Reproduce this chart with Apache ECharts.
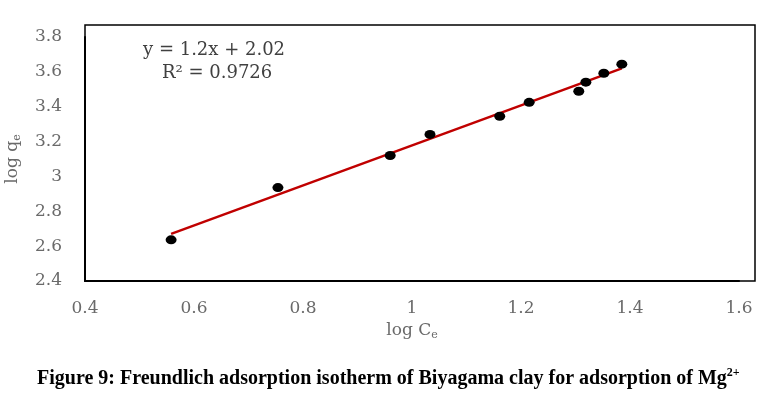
<!DOCTYPE html>
<html>
<head>
<meta charset="utf-8">
<script src="https://cdn.jsdelivr.net/npm/echarts@6/dist/echarts.min.js"></script>
<style>
html,body{margin:0;padding:0;background:#fff}
#chart{width:766px;height:407px}
</style>
</head>
<body>
<div id="chart"></div>
<script>
// log Ce / log qe points
var logCe = [0.558, 0.754, 0.960, 1.033, 1.161, 1.215, 1.306, 1.319, 1.352, 1.385];
var logQe = [2.636, 2.936, 3.120, 3.241, 3.345, 3.425, 3.489, 3.541, 3.592, 3.644];
// ends of the drawn trend line
var trendX = [0.558, 1.385];
var trendY = [2.67, 3.62];
var xTicks = [0.4, 1.6, 0.2];
var yTicks = [2.4, 3.8, 0.2];

var points = logCe.map(function (x, i) { return [x, logQe[i]]; });
var trend = trendX.map(function (x, i) { return [x, trendY[i]]; });

var tickFont = { fontFamily: 'DejaVu Serif', fontSize: 17, color: '#6a6a6a' };
var nameFont = {
  fontFamily: 'DejaVu Serif', fontSize: 17, color: '#6a6a6a',
  rich: { s: { fontFamily: 'DejaVu Serif', fontSize: 11, color: '#6a6a6a', padding: [9, 0, 0, 0] } }
};

var chart = echarts.init(document.getElementById('chart'));
chart.setOption({
  animation: false,
  backgroundColor: '#fff',
  grid: { left: 85, right: 27, top: 37, bottom: 126, outerBoundsMode: 'none', containLabel: false },
  xAxis: {
    type: 'value', min: xTicks[0], max: xTicks[1], interval: xTicks[2],
    name: 'log C{s|e}', nameLocation: 'middle', nameGap: 31,
    nameTextStyle: nameFont,
    axisLine: { lineStyle: { color: '#000', width: 2 } },
    axisTick: { show: false },
    splitLine: { show: false },
    axisLabel: Object.assign({ margin: 19 }, tickFont)
  },
  yAxis: {
    type: 'value', min: yTicks[0], max: yTicks[1], interval: yTicks[2],
    name: 'log q{s|e}', nameLocation: 'middle', nameGap: 62,
    nameTextStyle: nameFont,
    axisLine: { show: true, lineStyle: { color: '#000', width: 2 } },
    axisTick: { show: false },
    splitLine: { show: false },
    axisLabel: Object.assign({ margin: 23 }, tickFont)
  },
  graphic: [
    {
      type: 'rect', shape: { x: 85, y: 25, width: 670, height: 256 },
      style: { fill: 'none', stroke: '#000', lineWidth: 1.5 }, z: 0
    },
    {
      type: 'text', left: 143, top: 41,
      style: { text: 'y = 1.2x + 2.02', font: '18px "DejaVu Serif"', fill: '#404040' }
    },
    {
      type: 'text', left: 162, top: 64,
      style: { text: 'R² = 0.9726', font: '18px "DejaVu Serif"', fill: '#404040' }
    },
    {
      type: 'text', left: 37, top: 367,
      style: {
        text: '{b|Figure 9: Freundlich adsorption isotherm of Biyagama clay for adsorption of Mg}{sup|2+}',
        rich: {
          b: { fontFamily: 'Liberation Serif', fontWeight: 'bold', fontSize: 20, fill: '#000' },
          sup: { fontFamily: 'Liberation Serif', fontWeight: 'bold', fontSize: 12, fill: '#000', padding: [0, 0, 11, 0] }
        }
      }
    }
  ],
  series: [
    {
      type: 'line', data: trend, symbol: 'none', z: 2,
      lineStyle: { color: '#c00000', width: 2.5 }
    },
    {
      type: 'scatter', data: points, symbol: 'circle', symbolSize: [11, 9], z: 3,
      itemStyle: { color: '#000', opacity: 1 }
    }
  ]
});
</script>
</body>
</html>
